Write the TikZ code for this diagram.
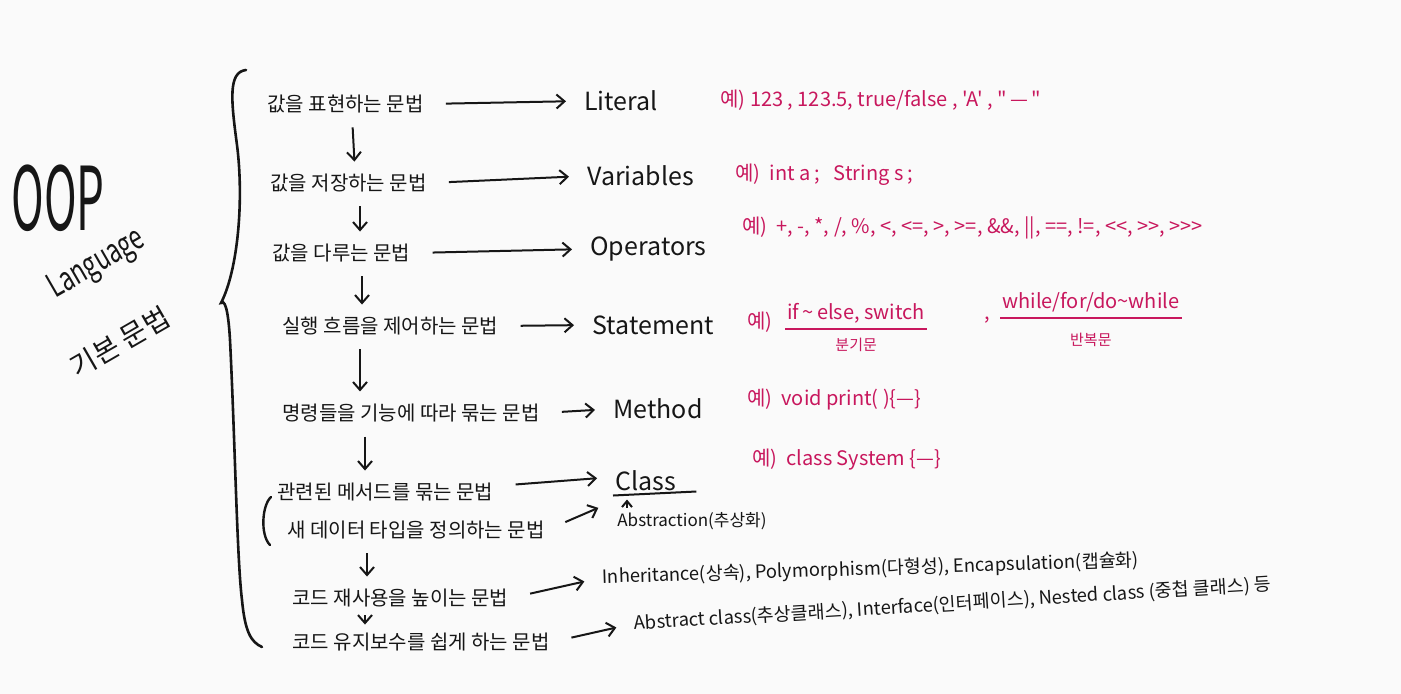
\documentclass[tikz,border=0pt]{standalone}
\usepackage{fontspec}
\usepackage{graphicx}
\newfontfamily\hw{Noto Sans CJK KR}
\usetikzlibrary{arrows.meta}
\definecolor{ink}{HTML}{161616}
\definecolor{pen}{HTML}{C8175D}
\definecolor{paper}{HTML}{FAFAFA}
\begin{document}
\begin{tikzpicture}[x=0.5pt,y=-0.5pt,
  every node/.style={font=\hw, inner sep=1pt, text=ink},
  lbl/.style={anchor=west, font=\hw\fontsize{10}{12}\selectfont},
  tgt/.style={anchor=west, font=\hw\fontsize{12.5}{14}\selectfont},
  ex/.style={anchor=west, text=pen, font=\hw\fontsize{10}{12}\selectfont},
  exs/.style={text=pen, font=\hw\fontsize{7.5}{9}\selectfont},
  more/.style={anchor=west, font=\hw\fontsize{9.2}{11}\selectfont},
  arr/.style={draw=ink, line width=1pt, -{Straight Barb[length=4pt,width=7pt]}},
  harr/.style={arr, shorten <=10pt, shorten >=8pt},
  varr/.style={arr, shorten <=6pt, shorten >=5pt},
  pline/.style={draw=pen, line width=0.9pt},
  iline/.style={draw=ink, line width=1pt}
]
\fill[paper] (0,0) rectangle (1401,694);

% title
\node (oop) at (58,198) {\scalebox{0.5}[1.0]{\fontsize{44}{44}\selectfont OOP}};
\node[rotate=30] (lang) at (97,265) {\scalebox{0.8}[1.15]{\fontsize{14.5}{15}\selectfont Language}};
\node[rotate=30] (basic) at (120,342) {\fontsize{14}{14}\selectfont 기본 문법};

% big brace
\draw[ink, line width=1.3pt, line cap=round]
  (246,70) .. controls (228,72) and (231,100) .. (237,145)
  .. controls (244,200) and (238,270) .. (221,303)
  .. controls (224,300) and (228,305) .. (230,340)
  .. controls (235,440) and (237,560) .. (242,600)
  .. controls (245,632) and (251,642) .. (262,647);

% left column
\node[lbl] (r1) at (265,104) {값을 표현하는 문법};
\node[lbl] (r2) at (268,183) {값을 저장하는 문법};
\node[lbl] (r3) at (270,253) {값을 다루는 문법};
\node[lbl] (r4) at (280,326) {실행 흐름을 제어하는 문법};
\node[lbl] (r5) at (280,413) {명령들을 기능에 따라 묶는 문법};
\node[lbl] (r6a) at (275,492) {관련된 메서드를 묶는 문법};
\node[lbl] (r6b) at (285,530) {새 데이터 타입을 정의하는 문법};
\node[lbl] (r7) at (290,598) {코드 재사용을 높이는 문법};
\node[lbl] (r8) at (290,642) {코드 유지보수를 쉽게 하는 문법};

\draw[ink, line width=1.2pt, line cap=round] (271,497) .. controls (262,505) and (260,535) .. (270,545);

% down arrows
\draw[varr] (r1.south -| 352,0) -- (r2.north -| 355,0);
\draw[varr] (r2.south -| 360,0) -- (r3.north -| 360,0);
\draw[varr] (r3.south -| 362,0) -- (r4.north -| 362,0);
\draw[varr] (r4.south -| 360,0) -- (r5.north -| 360,0);
\draw[varr] (r5.south -| 365,0) -- (r6a.north -| 365,0);
\draw[varr] (r6b.south -| 367,0) -- (r7.north -| 367,0);
\draw[arr, shorten <=3pt, shorten >=3pt] (r7.south -| 365,0) -- (r8.north -| 365,0);

% targets
\node[tgt] (lit) at (582,101) {Literal};
\node[tgt] (var) at (585,176) {Variables};
\node[tgt] (ops) at (588,249) {Operators};
\node[tgt] (stm) at (590,325) {Statement};
\node[tgt] (met) at (611,409) {Method};
\node[tgt] (cls) at (613,481) {Class};
\node[anchor=west, font=\hw\fontsize{8.5}{10}\selectfont] (abs) at (615,521) {Abstraction(추상화)};
\draw[iline] ([yshift=-1pt]cls.south west) -- ([xshift=9pt,yshift=1pt]cls.south east);
\draw[arr, -{Straight Barb[length=3pt,width=5pt]}, shorten <=1pt, shorten >=3pt] (abs.north -| 627,0) -- (cls.south -| 627,0);

\draw[harr] (r1.east) -- (lit.west);
\draw[harr] (r2.east) -- (var.west);
\draw[harr] (r3.east) -- (ops.west);
\draw[harr] (r4.east) -- (stm.west);
\draw[harr] (r5.east) -- (met.west);
\draw[harr] ([yshift=3pt]r6a.east) -- ([yshift=2pt]cls.west);
\draw[harr] (r6b.east) -- ([yshift=-4pt]cls.south west);

% examples
\node[ex] (e1) at (718,100) {예) 123 , 123.5, true/false , 'A' , "\,—\,"};
\node[ex] (e2) at (733,175) {예) \ int a ; \ \ String s ;};
\node[ex] (e3) at (740,228) {예) \ +, -, *, /, \%, <, <=, >, >=, \&\&, ||, ==, !=, <<, >>, >>>};
\node[ex] (e4) at (745,322) {예)};
\node[ex] (e4a) at (785,313) {if\,\textasciitilde\,else, switch};
\node[ex] (e4c) at (982,320) {,};
\node[ex] (e4b) at (1000,302) {while/for/do\textasciitilde while};
\draw[pline] ([yshift=-2pt]e4a.south west) -- ([yshift=-2pt]e4a.south east);
\draw[pline] ([yshift=-2pt]e4b.south west) -- ([yshift=-2pt]e4b.south east);
\node[exs] (b1) at (e4a.south |- 0,345) {분기문};
\node[exs] (b2) at (e4b.south |- 0,340) {반복문};
\node[ex] (e5) at (745,400) {예) \ void print( )\{—\}};
\node[ex] (e6) at (750,460) {예) \ class System \{—\}};

% rows 7 and 8
\node[more, rotate=1.8] (m7) at (600,578) {Inheritance(상속), Polymorphism(다형성), Encapsulation(캡슐화)};
\node[more, rotate=3.5] (m8) at (632,624) {Abstract class(추상클래스), Interface(인터페이스), Nested class (중첩 클래스) 등};
\draw[harr] (r7.east) -- (m7.west);
\draw[harr] (r8.east) -- (m8.west);
\end{tikzpicture}
\end{document}
